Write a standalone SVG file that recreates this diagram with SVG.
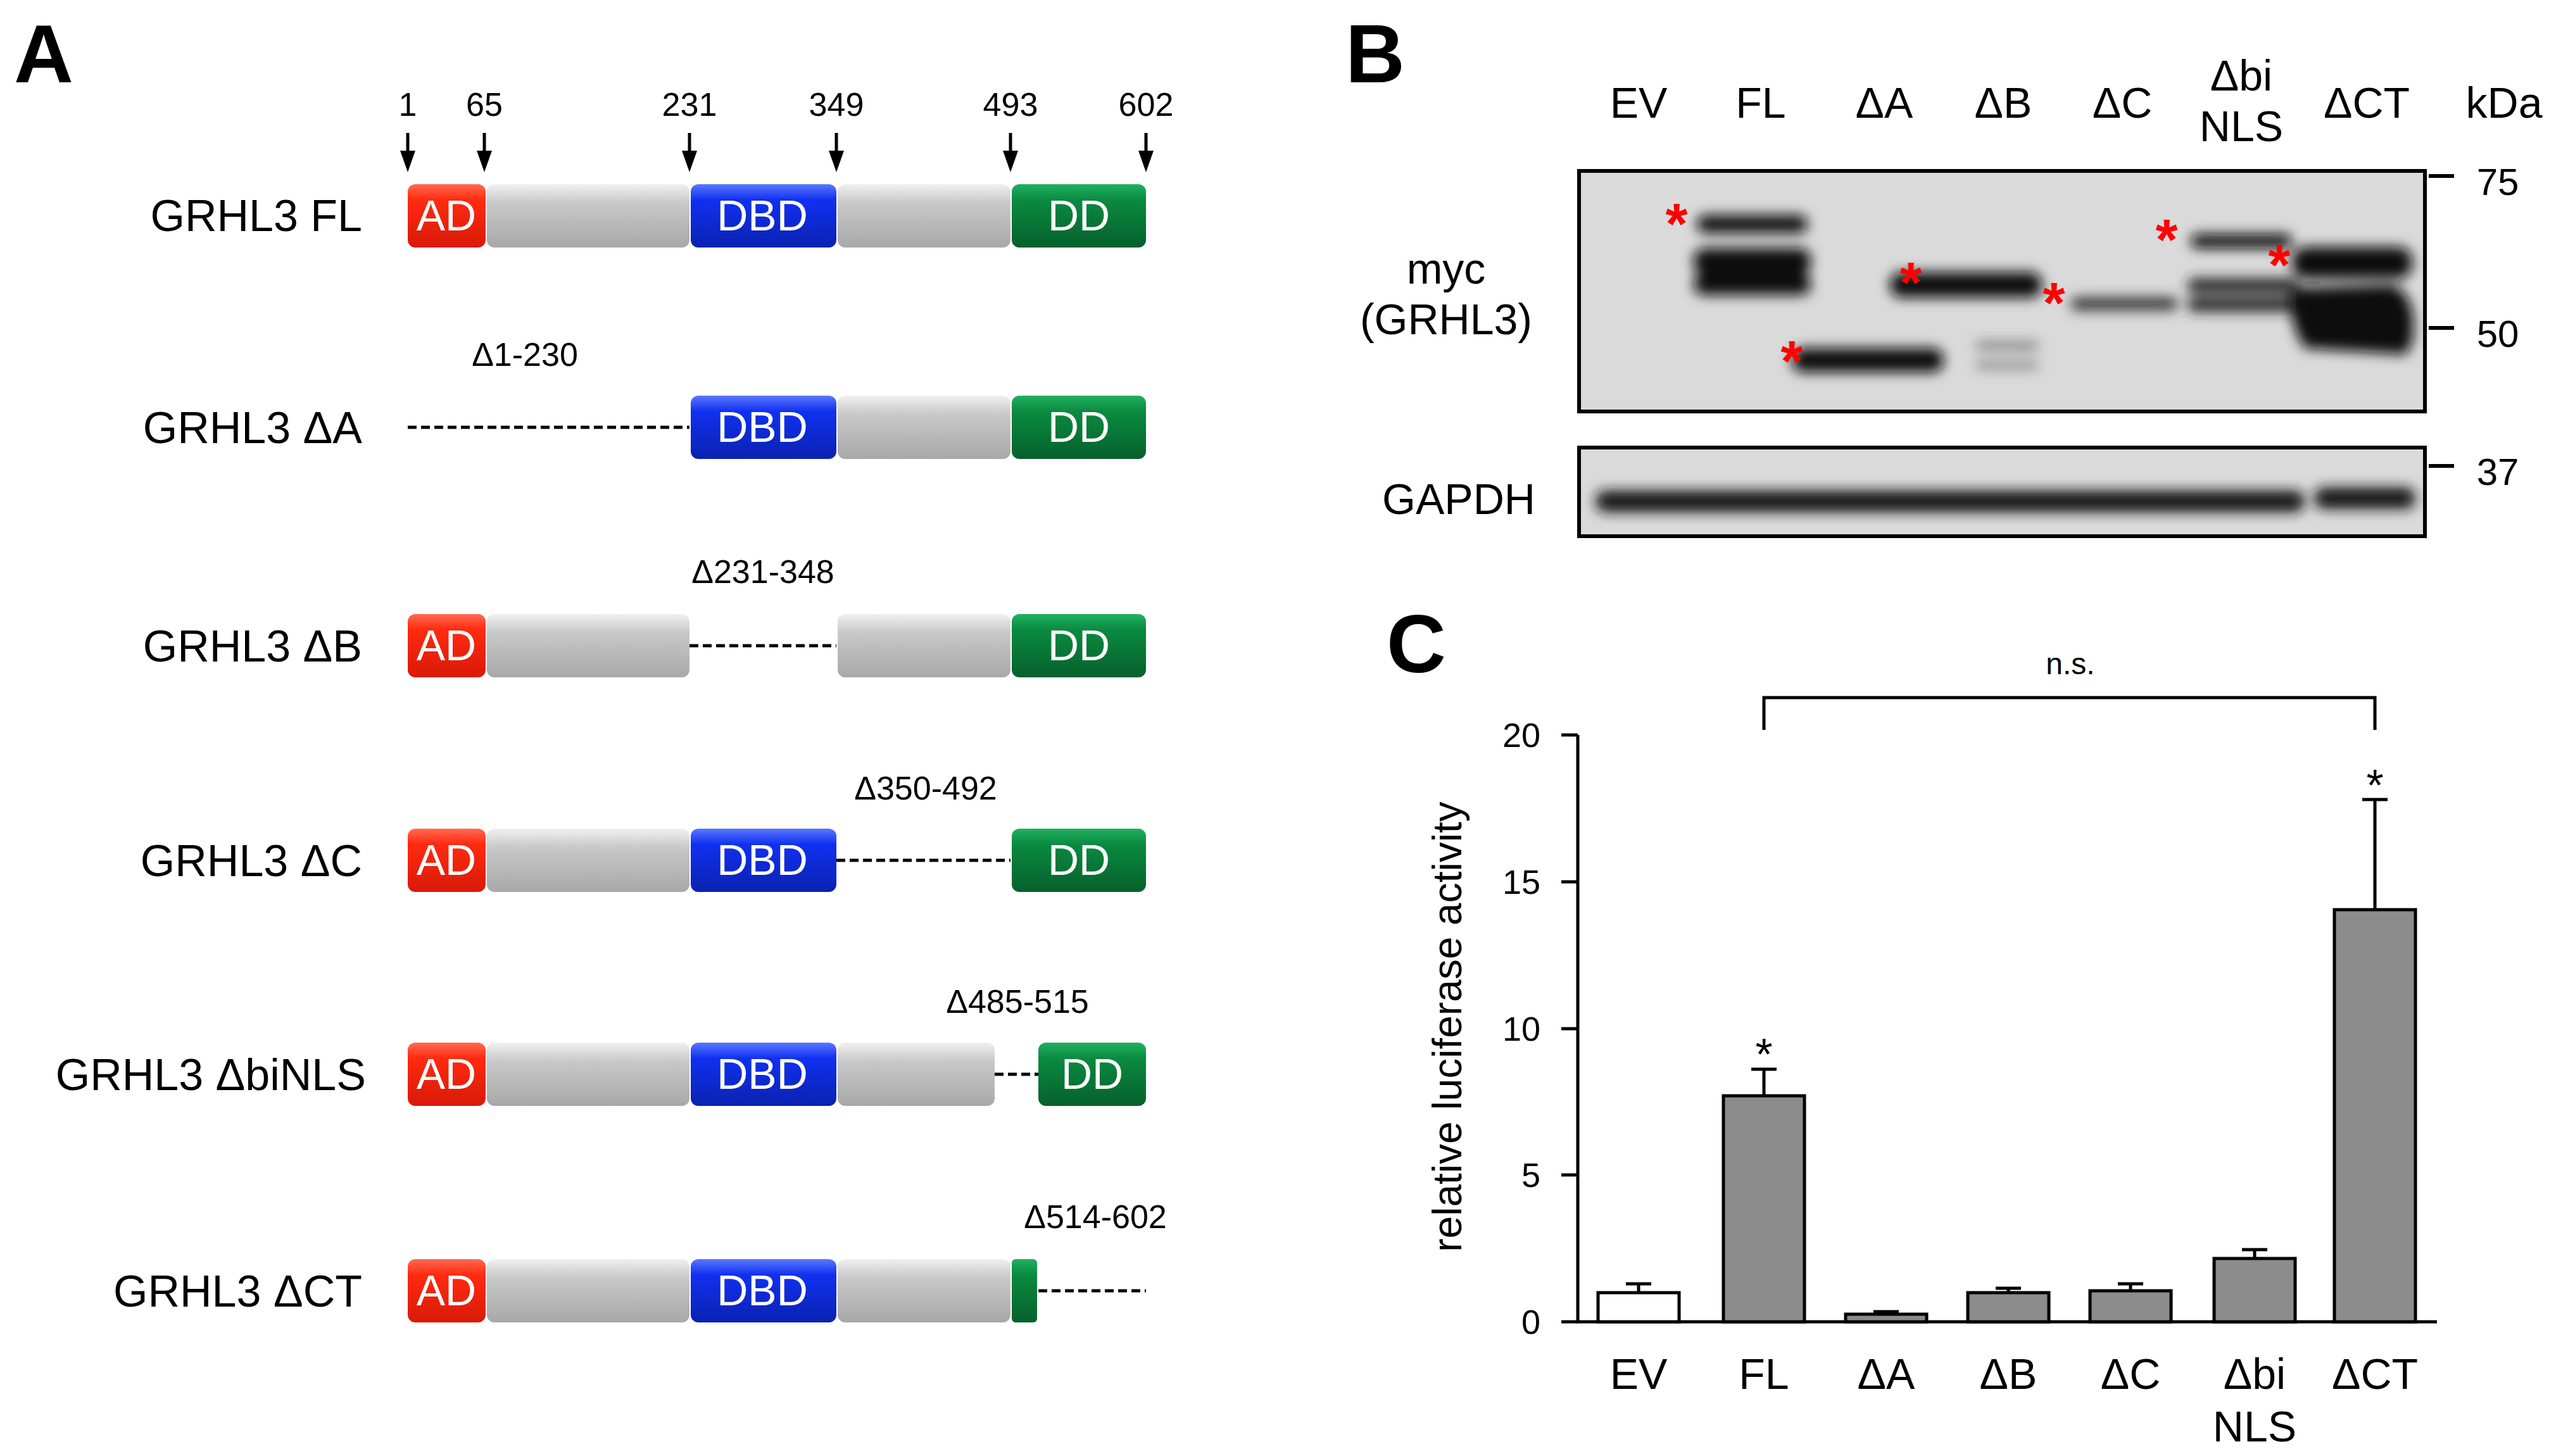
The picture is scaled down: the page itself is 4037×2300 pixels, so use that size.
<svg xmlns="http://www.w3.org/2000/svg" width="4037" height="2300" viewBox="0 0 4037 2300">
<style>
text{font-family:"Liberation Sans",Arial,sans-serif;fill:#000}
.lbl{font-size:70px;text-anchor:end}
.num{font-size:52px;text-anchor:middle}
.del{font-size:52px;text-anchor:middle}
.dom{font-size:68px;fill:#fff;text-anchor:middle}
.pl{font-size:130px;font-weight:bold}
.lane{font-size:68px;text-anchor:middle}
.tick{font-size:60px;text-anchor:middle}
.ax{font-size:54px;text-anchor:end}
.ast{font-size:90px;fill:#f00;text-anchor:middle;font-weight:bold}
.dash{stroke:#000;stroke-width:5;stroke-dasharray:14 7}
.bar{stroke:#000;stroke-width:5;fill:#8c8c8c}
.k{stroke:#000;stroke-width:5;fill:none}
</style>
<defs>
<linearGradient id="gR" x1="0" y1="0" x2="0" y2="1"><stop offset="0" stop-color="#ff6a50"/><stop offset="0.25" stop-color="#ff2a10"/><stop offset="1" stop-color="#d81a08"/></linearGradient>
<linearGradient id="gB" x1="0" y1="0" x2="0" y2="1"><stop offset="0" stop-color="#5a78ff"/><stop offset="0.25" stop-color="#1030f0"/><stop offset="1" stop-color="#0a22b0"/></linearGradient>
<linearGradient id="gG" x1="0" y1="0" x2="0" y2="1"><stop offset="0" stop-color="#20b060"/><stop offset="0.25" stop-color="#0a8a40"/><stop offset="1" stop-color="#06602c"/></linearGradient>
<linearGradient id="gY" x1="0" y1="0" x2="0" y2="1"><stop offset="0" stop-color="#f0f0f0"/><stop offset="0.3" stop-color="#c8c8c8"/><stop offset="1" stop-color="#a8a8a8"/></linearGradient>
<filter id="bl" x="-10%" y="-50%" width="120%" height="200%"><feGaussianBlur stdDeviation="10"/></filter>
</defs>
<text class="pl" x="22" y="130">A</text>
<text class="pl" x="2125" y="130">B</text>
<text class="pl" x="2190" y="1062">C</text>

<g id="numbers">
<text class="num" x="644" y="183">1</text><text class="num" x="765" y="183">65</text><text class="num" x="1089" y="183">231</text><text class="num" x="1321" y="183">349</text><text class="num" x="1596" y="183">493</text><text class="num" x="1810" y="183">602</text>
</g>
<g id="arrows" stroke="#000" stroke-width="5" fill="#000">
<path d="M644,210V240"/><path d="M765,210V240"/><path d="M1089,210V240"/><path d="M1321,210V240"/><path d="M1596,210V240"/><path d="M1810,210V240"/>
<path d="M632,238h24l-12,34z" stroke="none"/><path d="M753,238h24l-12,34z" stroke="none"/><path d="M1077,238h24l-12,34z" stroke="none"/><path d="M1309,238h24l-12,34z" stroke="none"/><path d="M1584,238h24l-12,34z" stroke="none"/><path d="M1798,238h24l-12,34z" stroke="none"/>
</g>

<g id="fl">
<text class="lbl" x="572" y="365">GRHL3 FL</text>
<rect x="644" y="291" width="123" height="100" rx="12" fill="url(#gR)"/><text class="dom" x="705" y="364">AD</text>
<rect x="769" y="291" width="320" height="100" rx="12" fill="url(#gY)"/>
<rect x="1091" y="291" width="230" height="100" rx="12" fill="url(#gB)"/><text class="dom" x="1204" y="364">DBD</text>
<rect x="1323" y="291" width="273" height="100" rx="12" fill="url(#gY)"/>
<rect x="1598" y="291" width="212" height="100" rx="12" fill="url(#gG)"/><text class="dom" x="1704" y="364">DD</text>
</g>
<g id="dA">
<text class="lbl" x="572" y="700">GRHL3 ΔA</text>
<text class="del" x="829" y="578">Δ1-230</text>
<line class="dash" x1="644" y1="675" x2="1089" y2="675"/>
<rect x="1091" y="625" width="230" height="100" rx="12" fill="url(#gB)"/><text class="dom" x="1204" y="698">DBD</text>
<rect x="1323" y="625" width="273" height="100" rx="12" fill="url(#gY)"/>
<rect x="1598" y="625" width="212" height="100" rx="12" fill="url(#gG)"/><text class="dom" x="1704" y="698">DD</text>
</g>
<g id="dB">
<text class="lbl" x="572" y="1045">GRHL3 ΔB</text>
<text class="del" x="1205" y="921">Δ231-348</text>
<rect x="644" y="970" width="123" height="100" rx="12" fill="url(#gR)"/><text class="dom" x="705" y="1043">AD</text>
<rect x="769" y="970" width="320" height="100" rx="12" fill="url(#gY)"/>
<line class="dash" x1="1089" y1="1020" x2="1321" y2="1020"/>
<rect x="1323" y="970" width="273" height="100" rx="12" fill="url(#gY)"/>
<rect x="1598" y="970" width="212" height="100" rx="12" fill="url(#gG)"/><text class="dom" x="1704" y="1043">DD</text>
</g>
<g id="dC">
<text class="lbl" x="572" y="1384">GRHL3 ΔC</text>
<text class="del" x="1462" y="1263">Δ350-492</text>
<rect x="644" y="1309" width="123" height="100" rx="12" fill="url(#gR)"/><text class="dom" x="705" y="1382">AD</text>
<rect x="769" y="1309" width="320" height="100" rx="12" fill="url(#gY)"/>
<rect x="1091" y="1309" width="230" height="100" rx="12" fill="url(#gB)"/><text class="dom" x="1204" y="1382">DBD</text>
<line class="dash" x1="1321" y1="1359" x2="1596" y2="1359"/>
<rect x="1598" y="1309" width="212" height="100" rx="12" fill="url(#gG)"/><text class="dom" x="1704" y="1382">DD</text>
</g>
<g id="dNLS">
<text class="lbl" x="578" y="1722">GRHL3 ΔbiNLS</text>
<text class="del" x="1607" y="1600">Δ485-515</text>
<rect x="644" y="1647" width="123" height="100" rx="12" fill="url(#gR)"/><text class="dom" x="705" y="1720">AD</text>
<rect x="769" y="1647" width="320" height="100" rx="12" fill="url(#gY)"/>
<rect x="1091" y="1647" width="230" height="100" rx="12" fill="url(#gB)"/><text class="dom" x="1204" y="1720">DBD</text>
<rect x="1323" y="1647" width="248" height="100" rx="12" fill="url(#gY)"/>
<line class="dash" x1="1571" y1="1697" x2="1640" y2="1697"/>
<rect x="1640" y="1647" width="170" height="100" rx="12" fill="url(#gG)"/><text class="dom" x="1725" y="1720">DD</text>
</g>
<g id="dCT">
<text class="lbl" x="572" y="2064">GRHL3 ΔCT</text>
<text class="del" x="1730" y="1940">Δ514-602</text>
<rect x="644" y="1989" width="123" height="100" rx="12" fill="url(#gR)"/><text class="dom" x="705" y="2062">AD</text>
<rect x="769" y="1989" width="320" height="100" rx="12" fill="url(#gY)"/>
<rect x="1091" y="1989" width="230" height="100" rx="12" fill="url(#gB)"/><text class="dom" x="1204" y="2062">DBD</text>
<rect x="1323" y="1989" width="273" height="100" rx="12" fill="url(#gY)"/>
<rect x="1598" y="1989" width="40" height="100" rx="6" fill="url(#gG)"/>
<line class="dash" x1="1640" y1="2039" x2="1810" y2="2039"/>
</g>

<g id="blot">
<g class="lanes">
<text class="lane" x="2588" y="186">EV</text><text class="lane" x="2781" y="186">FL</text><text class="lane" x="2976" y="186">ΔA</text><text class="lane" x="3164" y="186">ΔB</text><text class="lane" x="3352" y="186">ΔC</text><text class="lane" x="3540" y="143">Δbi</text><text class="lane" x="3540" y="223">NLS</text><text class="lane" x="3738" y="186">ΔCT</text><text class="lane" x="3955" y="186">kDa</text>
</g>
<text class="lane" x="2284" y="448">myc</text><text class="lane" x="2284" y="528">(GRHL3)</text>
<text class="lane" x="2304" y="812">GAPDH</text>
<rect x="2494" y="270" width="1336" height="380" fill="#dadada" stroke="#000" stroke-width="6"/>
<rect x="2494" y="707" width="1336" height="140" fill="#dadada" stroke="#000" stroke-width="6"/>
<g filter="url(#bl)" fill="#111">
<rect x="2680" y="340" width="175" height="28" rx="14"/>
<rect x="2675" y="392" width="185" height="42" rx="18"/>
<rect x="2675" y="432" width="185" height="34" rx="16"/>
<rect x="2830" y="550" width="240" height="38" rx="18"/>
<rect x="2985" y="430" width="240" height="40" rx="18"/>
<rect x="3120" y="540" width="100" height="12" rx="6" fill="#777"/>
<rect x="3120" y="572" width="100" height="10" rx="5" fill="#777"/>
<rect x="3270" y="470" width="170" height="20" rx="10" fill="#333"/>
<rect x="3460" y="370" width="160" height="22" rx="10"/>
<rect x="3455" y="440" width="175" height="22" rx="10" fill="#222"/>
<rect x="3455" y="470" width="175" height="22" rx="10" fill="#222"/>
<rect x="3620" y="390" width="190" height="50" rx="22"/>
<path d="M3620,455 L3780,450 Q3820,470 3810,540 L3800,560 L3640,550 Q3610,500 3620,455z"/>
</g>
<g filter="url(#bl)" fill="#151515">
<rect x="2520" y="775" width="1120" height="34" rx="16"/>
<rect x="3655" y="770" width="160" height="34" rx="16"/>
</g>
<g stroke="#000" stroke-width="6"><path d="M3836,278h40M3836,518h40M3836,736h40"/></g>
<text class="tick" x="3945" y="308">75</text><text class="tick" x="3945" y="548">50</text><text class="tick" x="3945" y="766">37</text>
<text class="ast" x="2648" y="385">*</text><text class="ast" x="2830" y="602">*</text><text class="ast" x="3018" y="478">*</text><text class="ast" x="3244" y="510">*</text><text class="ast" x="3422" y="410">*</text><text class="ast" x="3600" y="450">*</text>
</g>

<g id="chart">
<text font-size="64" text-anchor="middle" transform="translate(2308,1622) rotate(-90)">relative luciferase activity</text>
<path class="k" d="M2492,1161V2088H3849"/>
<path class="k" d="M2466,1161h26M2466,1393h26M2466,1625h26M2466,1856h26M2466,2088h26"/>
<text class="ax" x="2433" y="1180">20</text><text class="ax" x="2433" y="1412">15</text><text class="ax" x="2433" y="1644">10</text><text class="ax" x="2433" y="1875">5</text><text class="ax" x="2433" y="2107">0</text>
<g id="bars">
<path class="k" d="M2588,2042V2028M2568,2028h40"/>
<rect class="bar" x="2524" y="2042" width="128" height="46" style="fill:#fff"/>
<path class="k" d="M2786,1731V1689M2766,1689h40"/>
<rect class="bar" x="2722" y="1731" width="128" height="357"/>
<path class="k" d="M2979,2076V2072M2959,2072h40"/>
<rect class="bar" x="2915" y="2076" width="128" height="12"/>
<path class="k" d="M3172,2042V2035M3152,2035h40"/>
<rect class="bar" x="3108" y="2042" width="128" height="46"/>
<path class="k" d="M3365,2039V2028M3345,2028h40"/>
<rect class="bar" x="3301" y="2039" width="128" height="49"/>
<path class="k" d="M3561,1988V1974M3541,1974h40"/>
<rect class="bar" x="3497" y="1988" width="128" height="100"/>
<path class="k" d="M3751,1437V1263M3731,1263h40"/>
<rect class="bar" x="3687" y="1437" width="128" height="651"/>
</g>
<text font-size="70" text-anchor="middle" x="2786" y="1690">*</text>
<text font-size="70" text-anchor="middle" x="3751" y="1265">*</text>
<path class="k" d="M2786,1153V1102H3751V1153"/>
<text font-size="48" text-anchor="middle" x="3270" y="1065">n.s.</text>
<text class="lane" x="2588" y="2194">EV</text><text class="lane" x="2786" y="2194">FL</text><text class="lane" x="2979" y="2194">ΔA</text><text class="lane" x="3172" y="2194">ΔB</text><text class="lane" x="3365" y="2194">ΔC</text><text class="lane" x="3561" y="2194">Δbi</text><text class="lane" x="3561" y="2277">NLS</text><text class="lane" x="3751" y="2194">ΔCT</text>
</g>
</svg>
